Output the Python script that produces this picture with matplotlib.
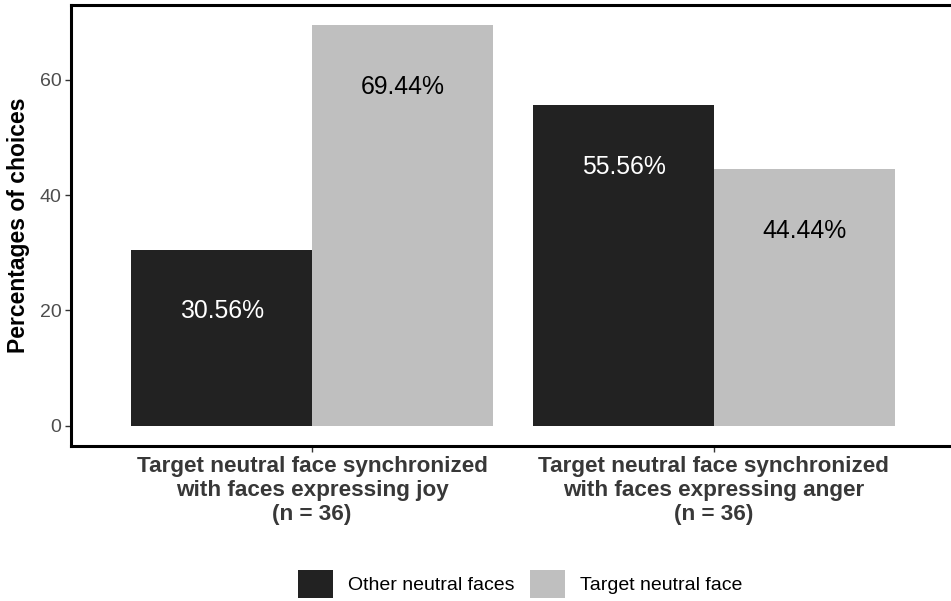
import matplotlib
matplotlib.use('Agg')
import matplotlib.pyplot as plt
from matplotlib.patches import Patch
import numpy as np

plt.rcParams['font.family'] = ['Liberation Sans', 'DejaVu Sans']

# Data
groups = ['Target neutral face synchronized\nwith faces expressing joy\n(n = 36)',
          'Target neutral face synchronized\nwith faces expressing anger\n(n = 36)']
series = ['Other neutral faces', 'Target neutral face']
other_pct = [30.56, 55.56]
target_pct = [69.44, 44.44]

colors = ['#222222', '#bfbfbf']
label_colors = ['white', 'black']

W, H = 951, 601
fig = plt.figure(figsize=(W / 100, H / 100), dpi=100, facecolor='white')
ax = fig.add_axes([71 / W, (H - 446) / H, (955 - 71) / W, (446 - 5) / H])

x = np.arange(1, len(groups) + 1)
width = 0.45
for i, (vals, name) in enumerate(zip([other_pct, target_pct], series)):
    pos = x + (i - 0.5) * width
    ax.bar(pos, vals, width=width, color=colors[i], label=name, zorder=2)
    for p, v in zip(pos, vals):
        ax.text(p, v - 10.7, '{:.2f}%'.format(v), ha='center', va='center',
                color=label_colors[i], fontsize=17.8)

ymax = max(max(other_pct), max(target_pct))
ax.set_xlim(0.4, 2.6)
ax.set_ylim(-0.05 * ymax, 1.05 * ymax)
ax.set_yticks([0, 20, 40, 60])
ax.set_xticks(x)
ax.set_xticklabels(groups, fontsize=16.2, fontweight='bold', color='#383838',
                   linespacing=1.2)
ax.tick_params(axis='y', labelsize=14, labelcolor='#4d4d4d', length=4,
               width=1, color='#333333', pad=3)
ax.tick_params(axis='x', length=4, width=1, color='#333333', pad=3)
ax.set_ylabel('Percentages of choices', fontsize=16.5, fontweight='bold',
              labelpad=7)
for s in ax.spines.values():
    s.set_linewidth(2.2)
    s.set_color('black')

handles = [Patch(facecolor=c, edgecolor='none') for c in colors]
fig.legend(handles, series, loc='center', ncol=2, frameon=False,
           bbox_to_anchor=(520 / W, 1 - 584 / H), fontsize=14,
           handlelength=1.8, handleheight=1.8, handletextpad=0.77,
           columnspacing=0.77, borderpad=0, borderaxespad=0)

fig.savefig('out.png', dpi=100, facecolor='white')
